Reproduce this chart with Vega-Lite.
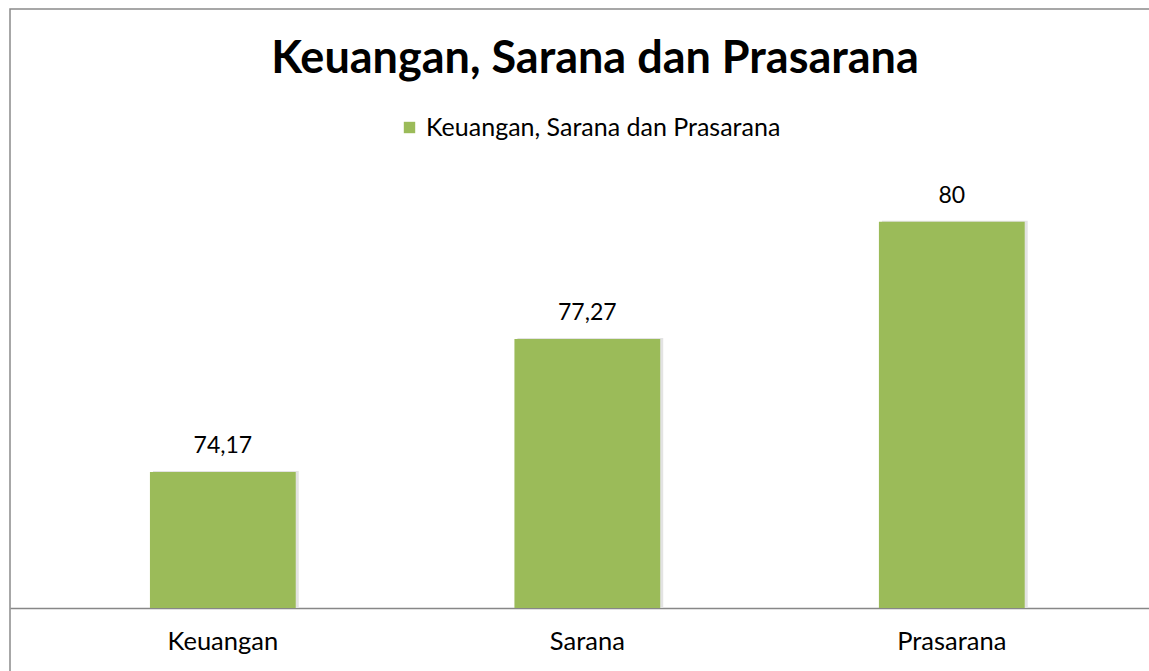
{
  "$schema": "https://vega.github.io/schema/vega-lite/v6.json",
  "width": 1170,
  "height": 671,
  "autosize": {"type": "none"},
  "padding": {"left": 10, "top": 9, "right": 0, "bottom": 0},
  "background": "white",
  "title": {
    "text": "Keuangan, Sarana dan Prasarana",
    "anchor": "middle",
    "frame": "group",
    "orient": "top",
    "offset": -73,
    "baseline": "top",
    "font": "Lato",
    "fontSize": 45,
    "fontWeight": "bold",
    "color": "#000000"
  },
  "data": {
    "values": [
      {"aspek": "Keuangan", "nilai": 74.17, "series": "Keuangan, Sarana dan Prasarana"},
      {"aspek": "Sarana", "nilai": 77.27, "series": "Keuangan, Sarana dan Prasarana"},
      {"aspek": "Prasarana", "nilai": 80, "series": "Keuangan, Sarana dan Prasarana"}
    ]
  },
  "encoding": {
    "x": {
      "field": "aspek",
      "type": "nominal",
      "sort": null,
      "scale": {"paddingInner": 0.6, "paddingOuter": 0.405, "align": 0.474},
      "axis": {
        "orient": "bottom",
        "offset": -72,
        "title": null,
        "labelAngle": 0,
        "ticks": false,
        "labelPadding": 21,
        "labelFont": "Lato",
        "labelFontSize": 25.5,
        "labelColor": "#000000",
        "domainColor": "#878787",
        "domainWidth": 1.5
      }
    },
    "y": {
      "field": "nilai",
      "type": "quantitative",
      "scale": {"domain": [69.32, 84.96], "nice": false, "zero": false},
      "axis": null
    }
  },
  "layer": [
    {
      "mark": {"type": "bar", "color": "#e3e3e3", "xOffset": 3, "yOffset": -1},
      "encoding": {"y2": {"datum": 71}}
    },
    {
      "mark": {"type": "bar"},
      "encoding": {
        "y2": {"datum": 71},
        "color": {
          "field": "series",
          "type": "nominal",
          "scale": {"range": ["#9BBB59"]},
          "legend": {
            "title": null,
            "orient": "none",
            "legendX": 387,
            "legendY": 106,
            "symbolType": "square",
            "symbolSize": 130,
            "symbolStrokeWidth": 0,
            "labelFont": "Lato",
            "labelFontSize": 25,
            "labelLimit": 0,
            "labelColor": "#000000",
            "labelOffset": 4
          }
        }
      }
    },
    {
      "mark": {"type": "text", "baseline": "bottom", "dy": -14, "font": "Lato", "fontSize": 23, "color": "#000000"},
      "encoding": {
        "text": {"field": "nilai", "type": "quantitative", "format": ".2~f"}
      }
    }
  ],
  "config": {
    "locale": {"number": {"decimal": ",", "thousands": ".", "grouping": [3], "currency": ["Rp", ""]}},
    "view": {"stroke": "#8a8a8a", "strokeWidth": 1.5}
  }
}
